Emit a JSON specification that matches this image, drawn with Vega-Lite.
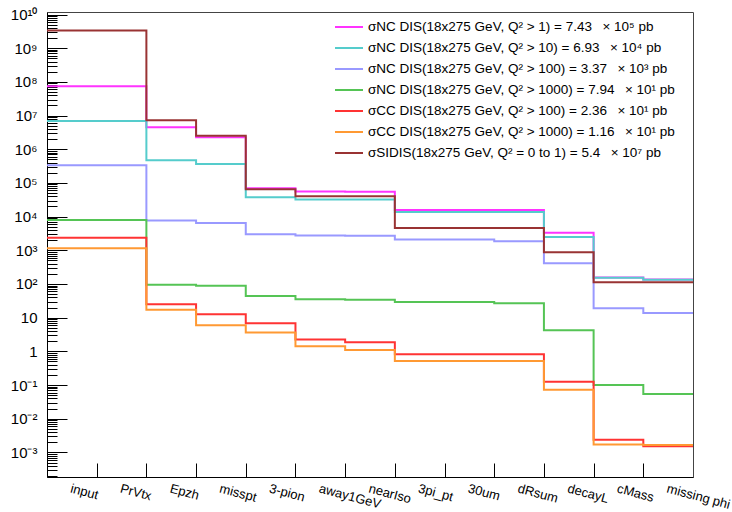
{
  "$schema": "https://vega.github.io/schema/vega-lite/v6.json",
  "width": 646,
  "height": 465,
  "autosize": {"type": "none"},
  "padding": {"left": 47, "top": 12, "right": 39, "bottom": 35},
  "background": "#ffffff",
  "config": {
    "view": {"stroke": "#444444", "strokeWidth": 1},
    "axis": {"grid": false, "domainColor": "#000000", "tickColor": "#000000", "labelColor": "#000000", "labelFont": "Liberation Sans", "domainWidth": 1, "tickWidth": 1},
    "legend": {"labelFont": "Liberation Sans"}
  },
  "resolve": {"axis": {"x": "independent", "y": "independent"}, "scale": {"y": "independent"}},
  "data": {"values": [
    {"s": "σNC DIS(18x275 GeV, Q² > 1) = 7.43\u2002 × 10⁵ pb", "i": 0, "cut": "input", "n": 7.43e7},
    {"s": "σNC DIS(18x275 GeV, Q² > 1) = 7.43\u2002 × 10⁵ pb", "i": 1, "cut": "PrVtx", "n": 7.43e7},
    {"s": "σNC DIS(18x275 GeV, Q² > 1) = 7.43\u2002 × 10⁵ pb", "i": 2, "cut": "Epzh", "n": 4.5e6},
    {"s": "σNC DIS(18x275 GeV, Q² > 1) = 7.43\u2002 × 10⁵ pb", "i": 3, "cut": "misspt", "n": 2.27e6},
    {"s": "σNC DIS(18x275 GeV, Q² > 1) = 7.43\u2002 × 10⁵ pb", "i": 4, "cut": "3-pion", "n": 6.93e4},
    {"s": "σNC DIS(18x275 GeV, Q² > 1) = 7.43\u2002 × 10⁵ pb", "i": 5, "cut": "away1GeV", "n": 5.54e4},
    {"s": "σNC DIS(18x275 GeV, Q² > 1) = 7.43\u2002 × 10⁵ pb", "i": 6, "cut": "nearIso", "n": 5.5e4},
    {"s": "σNC DIS(18x275 GeV, Q² > 1) = 7.43\u2002 × 10⁵ pb", "i": 7, "cut": "3pi_pt", "n": 1.58e4},
    {"s": "σNC DIS(18x275 GeV, Q² > 1) = 7.43\u2002 × 10⁵ pb", "i": 8, "cut": "30um", "n": 1.58e4},
    {"s": "σNC DIS(18x275 GeV, Q² > 1) = 7.43\u2002 × 10⁵ pb", "i": 9, "cut": "dRsum", "n": 1.58e4},
    {"s": "σNC DIS(18x275 GeV, Q² > 1) = 7.43\u2002 × 10⁵ pb", "i": 10, "cut": "decayL", "n": 3.35e3},
    {"s": "σNC DIS(18x275 GeV, Q² > 1) = 7.43\u2002 × 10⁵ pb", "i": 11, "cut": "cMass", "n": 155},
    {"s": "σNC DIS(18x275 GeV, Q² > 1) = 7.43\u2002 × 10⁵ pb", "i": 12, "cut": "missing phi", "n": 135},
    {"s": "σNC DIS(18x275 GeV, Q² > 1) = 7.43\u2002 × 10⁵ pb", "i": 13, "cut": "end", "n": 135},

    {"s": "σNC DIS(18x275 GeV, Q² > 10) = 6.93\u2002 × 10⁴ pb", "i": 0, "cut": "input", "n": 6.93e6},
    {"s": "σNC DIS(18x275 GeV, Q² > 10) = 6.93\u2002 × 10⁴ pb", "i": 1, "cut": "PrVtx", "n": 6.93e6},
    {"s": "σNC DIS(18x275 GeV, Q² > 10) = 6.93\u2002 × 10⁴ pb", "i": 2, "cut": "Epzh", "n": 4.71e5},
    {"s": "σNC DIS(18x275 GeV, Q² > 10) = 6.93\u2002 × 10⁴ pb", "i": 3, "cut": "misspt", "n": 3.68e5},
    {"s": "σNC DIS(18x275 GeV, Q² > 10) = 6.93\u2002 × 10⁴ pb", "i": 4, "cut": "3-pion", "n": 3.75e4},
    {"s": "σNC DIS(18x275 GeV, Q² > 10) = 6.93\u2002 × 10⁴ pb", "i": 5, "cut": "away1GeV", "n": 3.2e4},
    {"s": "σNC DIS(18x275 GeV, Q² > 10) = 6.93\u2002 × 10⁴ pb", "i": 6, "cut": "nearIso", "n": 3.2e4},
    {"s": "σNC DIS(18x275 GeV, Q² > 10) = 6.93\u2002 × 10⁴ pb", "i": 7, "cut": "3pi_pt", "n": 1.38e4},
    {"s": "σNC DIS(18x275 GeV, Q² > 10) = 6.93\u2002 × 10⁴ pb", "i": 8, "cut": "30um", "n": 1.38e4},
    {"s": "σNC DIS(18x275 GeV, Q² > 10) = 6.93\u2002 × 10⁴ pb", "i": 9, "cut": "dRsum", "n": 1.38e4},
    {"s": "σNC DIS(18x275 GeV, Q² > 10) = 6.93\u2002 × 10⁴ pb", "i": 10, "cut": "decayL", "n": 2.5e3},
    {"s": "σNC DIS(18x275 GeV, Q² > 10) = 6.93\u2002 × 10⁴ pb", "i": 11, "cut": "cMass", "n": 152},
    {"s": "σNC DIS(18x275 GeV, Q² > 10) = 6.93\u2002 × 10⁴ pb", "i": 12, "cut": "missing phi", "n": 133},
    {"s": "σNC DIS(18x275 GeV, Q² > 10) = 6.93\u2002 × 10⁴ pb", "i": 13, "cut": "end", "n": 133},

    {"s": "σNC DIS(18x275 GeV, Q² > 100) = 3.37\u2002 × 10³ pb", "i": 0, "cut": "input", "n": 3.37e5},
    {"s": "σNC DIS(18x275 GeV, Q² > 100) = 3.37\u2002 × 10³ pb", "i": 1, "cut": "PrVtx", "n": 3.37e5},
    {"s": "σNC DIS(18x275 GeV, Q² > 100) = 3.37\u2002 × 10³ pb", "i": 2, "cut": "Epzh", "n": 7.62e3},
    {"s": "σNC DIS(18x275 GeV, Q² > 100) = 3.37\u2002 × 10³ pb", "i": 3, "cut": "misspt", "n": 6.5e3},
    {"s": "σNC DIS(18x275 GeV, Q² > 100) = 3.37\u2002 × 10³ pb", "i": 4, "cut": "3-pion", "n": 2.99e3},
    {"s": "σNC DIS(18x275 GeV, Q² > 100) = 3.37\u2002 × 10³ pb", "i": 5, "cut": "away1GeV", "n": 2.73e3},
    {"s": "σNC DIS(18x275 GeV, Q² > 100) = 3.37\u2002 × 10³ pb", "i": 6, "cut": "nearIso", "n": 2.7e3},
    {"s": "σNC DIS(18x275 GeV, Q² > 100) = 3.37\u2002 × 10³ pb", "i": 7, "cut": "3pi_pt", "n": 2.08e3},
    {"s": "σNC DIS(18x275 GeV, Q² > 100) = 3.37\u2002 × 10³ pb", "i": 8, "cut": "30um", "n": 2.08e3},
    {"s": "σNC DIS(18x275 GeV, Q² > 100) = 3.37\u2002 × 10³ pb", "i": 9, "cut": "dRsum", "n": 1.85e3},
    {"s": "σNC DIS(18x275 GeV, Q² > 100) = 3.37\u2002 × 10³ pb", "i": 10, "cut": "decayL", "n": 411},
    {"s": "σNC DIS(18x275 GeV, Q² > 100) = 3.37\u2002 × 10³ pb", "i": 11, "cut": "cMass", "n": 18.9},
    {"s": "σNC DIS(18x275 GeV, Q² > 100) = 3.37\u2002 × 10³ pb", "i": 12, "cut": "missing phi", "n": 13.8},
    {"s": "σNC DIS(18x275 GeV, Q² > 100) = 3.37\u2002 × 10³ pb", "i": 13, "cut": "end", "n": 13.8},

    {"s": "σNC DIS(18x275 GeV, Q² > 1000) = 7.94\u2002 × 10¹ pb", "i": 0, "cut": "input", "n": 7940},
    {"s": "σNC DIS(18x275 GeV, Q² > 1000) = 7.94\u2002 × 10¹ pb", "i": 1, "cut": "PrVtx", "n": 7940},
    {"s": "σNC DIS(18x275 GeV, Q² > 1000) = 7.94\u2002 × 10¹ pb", "i": 2, "cut": "Epzh", "n": 95.7},
    {"s": "σNC DIS(18x275 GeV, Q² > 1000) = 7.94\u2002 × 10¹ pb", "i": 3, "cut": "misspt", "n": 89.4},
    {"s": "σNC DIS(18x275 GeV, Q² > 1000) = 7.94\u2002 × 10¹ pb", "i": 4, "cut": "3-pion", "n": 44.2},
    {"s": "σNC DIS(18x275 GeV, Q² > 1000) = 7.94\u2002 × 10¹ pb", "i": 5, "cut": "away1GeV", "n": 35},
    {"s": "σNC DIS(18x275 GeV, Q² > 1000) = 7.94\u2002 × 10¹ pb", "i": 6, "cut": "nearIso", "n": 34.3},
    {"s": "σNC DIS(18x275 GeV, Q² > 1000) = 7.94\u2002 × 10¹ pb", "i": 7, "cut": "3pi_pt", "n": 29.3},
    {"s": "σNC DIS(18x275 GeV, Q² > 1000) = 7.94\u2002 × 10¹ pb", "i": 8, "cut": "30um", "n": 29.3},
    {"s": "σNC DIS(18x275 GeV, Q² > 1000) = 7.94\u2002 × 10¹ pb", "i": 9, "cut": "dRsum", "n": 26.7},
    {"s": "σNC DIS(18x275 GeV, Q² > 1000) = 7.94\u2002 × 10¹ pb", "i": 10, "cut": "decayL", "n": 4.2},
    {"s": "σNC DIS(18x275 GeV, Q² > 1000) = 7.94\u2002 × 10¹ pb", "i": 11, "cut": "cMass", "n": 0.1},
    {"s": "σNC DIS(18x275 GeV, Q² > 1000) = 7.94\u2002 × 10¹ pb", "i": 12, "cut": "missing phi", "n": 0.0543},
    {"s": "σNC DIS(18x275 GeV, Q² > 1000) = 7.94\u2002 × 10¹ pb", "i": 13, "cut": "end", "n": 0.0543},

    {"s": "σCC DIS(18x275 GeV, Q² > 100) = 2.36\u2002 × 10¹ pb", "i": 0, "cut": "input", "n": 2360},
    {"s": "σCC DIS(18x275 GeV, Q² > 100) = 2.36\u2002 × 10¹ pb", "i": 1, "cut": "PrVtx", "n": 2360},
    {"s": "σCC DIS(18x275 GeV, Q² > 100) = 2.36\u2002 × 10¹ pb", "i": 2, "cut": "Epzh", "n": 24.9},
    {"s": "σCC DIS(18x275 GeV, Q² > 100) = 2.36\u2002 × 10¹ pb", "i": 3, "cut": "misspt", "n": 12.6},
    {"s": "σCC DIS(18x275 GeV, Q² > 100) = 2.36\u2002 × 10¹ pb", "i": 4, "cut": "3-pion", "n": 6.79},
    {"s": "σCC DIS(18x275 GeV, Q² > 100) = 2.36\u2002 × 10¹ pb", "i": 5, "cut": "away1GeV", "n": 2.23},
    {"s": "σCC DIS(18x275 GeV, Q² > 100) = 2.36\u2002 × 10¹ pb", "i": 6, "cut": "nearIso", "n": 1.85},
    {"s": "σCC DIS(18x275 GeV, Q² > 100) = 2.36\u2002 × 10¹ pb", "i": 7, "cut": "3pi_pt", "n": 0.815},
    {"s": "σCC DIS(18x275 GeV, Q² > 100) = 2.36\u2002 × 10¹ pb", "i": 8, "cut": "30um", "n": 0.815},
    {"s": "σCC DIS(18x275 GeV, Q² > 100) = 2.36\u2002 × 10¹ pb", "i": 9, "cut": "dRsum", "n": 0.815},
    {"s": "σCC DIS(18x275 GeV, Q² > 100) = 2.36\u2002 × 10¹ pb", "i": 10, "cut": "decayL", "n": 0.126},
    {"s": "σCC DIS(18x275 GeV, Q² > 100) = 2.36\u2002 × 10¹ pb", "i": 11, "cut": "cMass", "n": 0.00238},
    {"s": "σCC DIS(18x275 GeV, Q² > 100) = 2.36\u2002 × 10¹ pb", "i": 12, "cut": "missing phi", "n": 0.00151},
    {"s": "σCC DIS(18x275 GeV, Q² > 100) = 2.36\u2002 × 10¹ pb", "i": 13, "cut": "end", "n": 0.00151},

    {"s": "σCC DIS(18x275 GeV, Q² > 1000) = 1.16\u2002 × 10¹ pb", "i": 0, "cut": "input", "n": 1160},
    {"s": "σCC DIS(18x275 GeV, Q² > 1000) = 1.16\u2002 × 10¹ pb", "i": 1, "cut": "PrVtx", "n": 1160},
    {"s": "σCC DIS(18x275 GeV, Q² > 1000) = 1.16\u2002 × 10¹ pb", "i": 2, "cut": "Epzh", "n": 17.3},
    {"s": "σCC DIS(18x275 GeV, Q² > 1000) = 1.16\u2002 × 10¹ pb", "i": 3, "cut": "misspt", "n": 5.92},
    {"s": "σCC DIS(18x275 GeV, Q² > 1000) = 1.16\u2002 × 10¹ pb", "i": 4, "cut": "3-pion", "n": 3.66},
    {"s": "σCC DIS(18x275 GeV, Q² > 1000) = 1.16\u2002 × 10¹ pb", "i": 5, "cut": "away1GeV", "n": 1.41},
    {"s": "σCC DIS(18x275 GeV, Q² > 1000) = 1.16\u2002 × 10¹ pb", "i": 6, "cut": "nearIso", "n": 1.1},
    {"s": "σCC DIS(18x275 GeV, Q² > 1000) = 1.16\u2002 × 10¹ pb", "i": 7, "cut": "3pi_pt", "n": 0.519},
    {"s": "σCC DIS(18x275 GeV, Q² > 1000) = 1.16\u2002 × 10¹ pb", "i": 8, "cut": "30um", "n": 0.519},
    {"s": "σCC DIS(18x275 GeV, Q² > 1000) = 1.16\u2002 × 10¹ pb", "i": 9, "cut": "dRsum", "n": 0.519},
    {"s": "σCC DIS(18x275 GeV, Q² > 1000) = 1.16\u2002 × 10¹ pb", "i": 10, "cut": "decayL", "n": 0.073},
    {"s": "σCC DIS(18x275 GeV, Q² > 1000) = 1.16\u2002 × 10¹ pb", "i": 11, "cut": "cMass", "n": 0.00173},
    {"s": "σCC DIS(18x275 GeV, Q² > 1000) = 1.16\u2002 × 10¹ pb", "i": 12, "cut": "missing phi", "n": 0.00167},
    {"s": "σCC DIS(18x275 GeV, Q² > 1000) = 1.16\u2002 × 10¹ pb", "i": 13, "cut": "end", "n": 0.00167},

    {"s": "σSIDIS(18x275 GeV, Q² = 0 to 1) = 5.4\u2002 × 10⁷ pb", "i": 0, "cut": "input", "n": 3.35e9},
    {"s": "σSIDIS(18x275 GeV, Q² = 0 to 1) = 5.4\u2002 × 10⁷ pb", "i": 1, "cut": "PrVtx", "n": 3.35e9},
    {"s": "σSIDIS(18x275 GeV, Q² = 0 to 1) = 5.4\u2002 × 10⁷ pb", "i": 2, "cut": "Epzh", "n": 7.26e6},
    {"s": "σSIDIS(18x275 GeV, Q² = 0 to 1) = 5.4\u2002 × 10⁷ pb", "i": 3, "cut": "misspt", "n": 2.5e6},
    {"s": "σSIDIS(18x275 GeV, Q² = 0 to 1) = 5.4\u2002 × 10⁷ pb", "i": 4, "cut": "3-pion", "n": 6.48e4},
    {"s": "σSIDIS(18x275 GeV, Q² = 0 to 1) = 5.4\u2002 × 10⁷ pb", "i": 5, "cut": "away1GeV", "n": 4.0e4},
    {"s": "σSIDIS(18x275 GeV, Q² = 0 to 1) = 5.4\u2002 × 10⁷ pb", "i": 6, "cut": "nearIso", "n": 4.0e4},
    {"s": "σSIDIS(18x275 GeV, Q² = 0 to 1) = 5.4\u2002 × 10⁷ pb", "i": 7, "cut": "3pi_pt", "n": 4.62e3},
    {"s": "σSIDIS(18x275 GeV, Q² = 0 to 1) = 5.4\u2002 × 10⁷ pb", "i": 8, "cut": "30um", "n": 4.62e3},
    {"s": "σSIDIS(18x275 GeV, Q² = 0 to 1) = 5.4\u2002 × 10⁷ pb", "i": 9, "cut": "dRsum", "n": 4.62e3},
    {"s": "σSIDIS(18x275 GeV, Q² = 0 to 1) = 5.4\u2002 × 10⁷ pb", "i": 10, "cut": "decayL", "n": 871},
    {"s": "σSIDIS(18x275 GeV, Q² = 0 to 1) = 5.4\u2002 × 10⁷ pb", "i": 11, "cut": "cMass", "n": 112},
    {"s": "σSIDIS(18x275 GeV, Q² = 0 to 1) = 5.4\u2002 × 10⁷ pb", "i": 12, "cut": "missing phi", "n": 112},
    {"s": "σSIDIS(18x275 GeV, Q² = 0 to 1) = 5.4\u2002 × 10⁷ pb", "i": 13, "cut": "end", "n": 112}
  ]},
  "layer": [
    {
      "mark": {"type": "line", "interpolate": "step-after", "strokeWidth": 2},
      "encoding": {
        "x": {"field": "i", "type": "quantitative",
              "scale": {"domain": [0, 13], "nice": false, "zero": false},
              "axis": {"orient": "bottom", "values": [1, 2, 3, 4, 5, 6, 7, 8, 9, 10, 11, 12], "labels": false, "tickSize": -14, "title": null}},
        "y": {"field": "n", "type": "quantitative",
              "scale": {"type": "log", "domain": [1.86e-4, 1.19e10], "nice": false},
              "axis": {"orient": "left",
                       "values": [2e-4,3e-4,4e-4,5e-4,6e-4,7e-4,8e-4,9e-4,1e-3,
                                  2e-3,3e-3,4e-3,5e-3,6e-3,7e-3,8e-3,9e-3,0.01,
                                  0.02,0.03,0.04,0.05,0.06,0.07,0.08,0.09,0.1,
                                  0.2,0.3,0.4,0.5,0.6,0.7,0.8,0.9,1,
                                  2,3,4,5,6,7,8,9,10,
                                  20,30,40,50,60,70,80,90,100,
                                  200,300,400,500,600,700,800,900,1000,
                                  2000,3000,4000,5000,6000,7000,8000,9000,1e4,
                                  2e4,3e4,4e4,5e4,6e4,7e4,8e4,9e4,1e5,
                                  2e5,3e5,4e5,5e5,6e5,7e5,8e5,9e5,1e6,
                                  2e6,3e6,4e6,5e6,6e6,7e6,8e6,9e6,1e7,
                                  2e7,3e7,4e7,5e7,6e7,7e7,8e7,9e7,1e8,
                                  2e8,3e8,4e8,5e8,6e8,7e8,8e8,9e8,1e9,
                                  2e9,3e9,4e9,5e9,6e9,7e9,8e9,9e9,1e10],
                       "tickCount": 300, "tickSize": -10, "labels": true, "labelPadding": 20, "labelFontSize": 15, "labelOverlap": false, "labelFlush": false, "title": null,
                       "labelExpr": "abs(log(datum.value)/LN10 - round(log(datum.value)/LN10)) < 0.000001 ? ['10⁻³','10⁻²','10⁻¹','1','10','10²','10³','10⁴','10⁵','10⁶','10⁷','10⁸','10⁹','10¹⁰'][round(log(datum.value)/LN10)+3] : ''"}},
        "color": {"field": "s", "type": "nominal",
                  "scale": {"domain": [
                    "σNC DIS(18x275 GeV, Q² > 1) = 7.43\u2002 × 10⁵ pb",
                    "σNC DIS(18x275 GeV, Q² > 10) = 6.93\u2002 × 10⁴ pb",
                    "σNC DIS(18x275 GeV, Q² > 100) = 3.37\u2002 × 10³ pb",
                    "σNC DIS(18x275 GeV, Q² > 1000) = 7.94\u2002 × 10¹ pb",
                    "σCC DIS(18x275 GeV, Q² > 100) = 2.36\u2002 × 10¹ pb",
                    "σCC DIS(18x275 GeV, Q² > 1000) = 1.16\u2002 × 10¹ pb",
                    "σSIDIS(18x275 GeV, Q² = 0 to 1) = 5.4\u2002 × 10⁷ pb"],
                    "range": ["#ff33ff", "#55cccc", "#9999ff", "#55c455", "#ff3333", "#ff9933", "#993333"]},
                  "legend": {"orient": "none", "legendX": 288, "legendY": 1, "title": null,
                             "symbolType": "M-1.08,0H1.08", "symbolSize": 672, "symbolStrokeWidth": 2,
                             "labelFontSize": 13.5, "labelLimit": 500, "labelOffset": 5, "rowPadding": 0}}
      }
    },
    {
      "mark": {"type": "point", "opacity": 0},
      "encoding": {
        "x": {"field": "i", "type": "quantitative",
              "scale": {"domain": [0, 13], "nice": false, "zero": false},
              "axis": {"orient": "bottom", "values": [0.5, 1.5, 2.5, 3.5, 4.5, 5.5, 6.5, 7.5, 8.5, 9.5, 10.5, 11.5, 12.5],
                       "ticks": false, "domain": false, "labels": true, "labelAngle": 15, "labelAlign": "left", "labelBaseline": "top",
                       "labelFontSize": 13, "labelPadding": 5, "labelDx": -2, "labelOverlap": false, "labelFlush": false, "labelBound": false, "title": null,
                       "labelExpr": "['input','PrVtx','Epzh','misspt','3-pion','away1GeV','nearIso','3pi_pt','30um','dRsum','decayL','cMass','missing phi'][floor(datum.value)]"}},
        "y": {"field": "i", "type": "quantitative",
              "scale": {"type": "linear", "domain": [-3.7305, 10.0755], "nice": false, "zero": false},
              "axis": {"orient": "left",
                       "values": [-3, -2, -1, 0, 1, 2, 3, 4, 5, 6, 7, 8, 9, 10],
                       "ticks": true, "labels": false, "tickSize": -20, "domain": false, "title": null}}
      }
    }
  ]
}
